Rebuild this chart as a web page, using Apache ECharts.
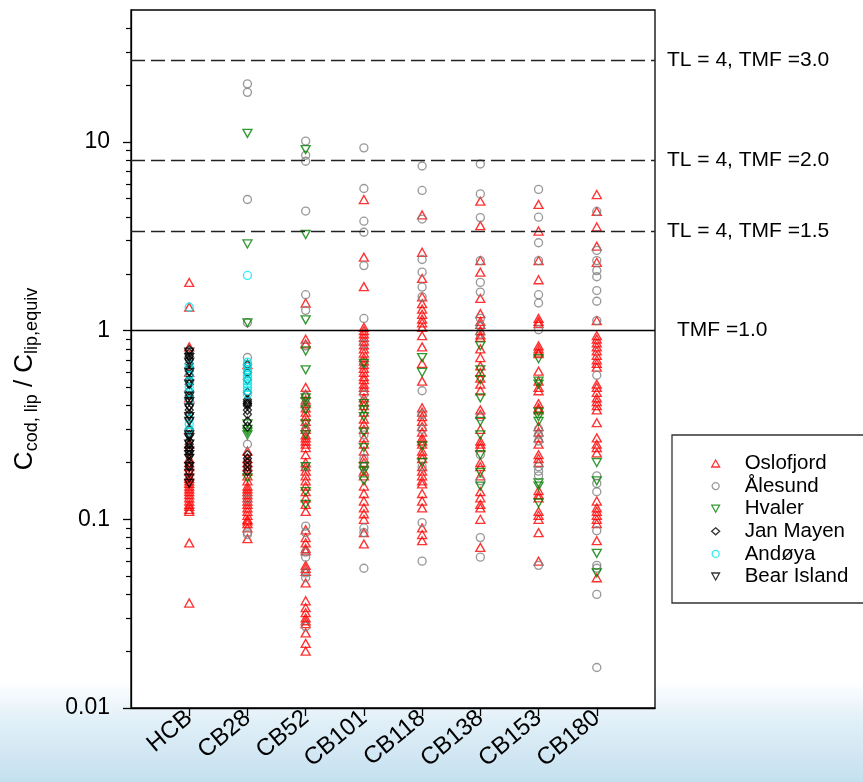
<!DOCTYPE html>
<html><head><meta charset="utf-8">
<script src="https://cdn.jsdelivr.net/npm/echarts@6/dist/echarts.min.js"></script>
<style>html,body{margin:0;padding:0;background:#fff}#c{width:863px;height:782px}</style>
</head><body><div id="c"></div>
<script>
const categories = ['HCB','CB28','CB52','CB101','CB118','CB138','CB153','CB180'];
const seriesNames = ['Oslofjord','Ålesund','Hvaler','Jan Mayen','Andøya','Bear Island'];

// values per category (HCB, CB28, CB52, CB101, CB118, CB138, CB153, CB180)
const oslofjord = [
  [1.8,1.33,0.82,0.6,0.44,0.3,0.25,0.21,0.2,0.19,0.18,0.17,0.165,0.16,0.155,0.15,0.145,0.14,0.135,0.13,0.125,0.12,0.117,0.113,0.11,0.075,0.036],
  [0.66,0.23,0.21,0.2,0.19,0.18,0.17,0.16,0.15,0.145,0.14,0.135,0.13,0.125,0.12,0.115,0.11,0.105,0.1,0.098,0.095,0.09,0.079],
  [1.4,0.9,0.85,0.5,0.46,0.43,0.41,0.39,0.37,0.35,0.33,0.31,0.3,0.28,0.27,0.26,0.25,0.24,0.22,0.2,0.19,0.18,0.17,0.16,0.15,0.14,0.13,0.12,0.11,0.088,0.08,0.075,0.07,0.068,0.057,0.055,0.053,0.046,0.037,0.034,0.032,0.03,0.029,0.028,0.025,0.022,0.02],
  [4.95,2.45,1.71,1.04,1.0,0.96,0.92,0.88,0.84,0.8,0.76,0.72,0.69,0.66,0.63,0.6,0.57,0.55,0.52,0.5,0.48,0.44,0.42,0.4,0.37,0.34,0.32,0.3,0.27,0.25,0.23,0.21,0.2,0.18,0.17,0.15,0.137,0.125,0.115,0.107,0.1,0.085,0.074],
  [4.1,2.6,1.89,1.51,1.39,1.3,1.22,1.15,1.1,1.04,0.94,0.82,0.67,0.54,0.39,0.37,0.35,0.33,0.31,0.29,0.27,0.26,0.25,0.23,0.22,0.21,0.19,0.18,0.17,0.16,0.154,0.137,0.125,0.115,0.09,0.083,0.077],
  [4.85,3.6,2.35,2.04,1.48,1.23,1.12,1.08,1.0,0.95,0.92,0.8,0.72,0.65,0.6,0.56,0.52,0.48,0.38,0.36,0.3,0.26,0.25,0.24,0.2,0.19,0.17,0.14,0.13,0.12,0.115,0.1,0.071],
  [4.66,3.37,2.35,1.86,1.16,1.12,1.09,0.83,0.8,0.77,0.755,0.61,0.54,0.5,0.48,0.41,0.39,0.38,0.31,0.29,0.27,0.25,0.22,0.21,0.2,0.142,0.135,0.13,0.11,0.105,0.1,0.085,0.06],
  [5.26,4.28,3.54,2.8,2.3,1.13,0.94,0.9,0.86,0.82,0.78,0.74,0.7,0.67,0.64,0.52,0.5,0.47,0.44,0.42,0.4,0.38,0.325,0.27,0.25,0.24,0.225,0.125,0.115,0.11,0.105,0.1,0.095,0.077,0.049]
];
const alesund = [
  [],
  [20.3,18.3,4.95,1.1,0.72,0.25,0.128,0.085,0.083],
  [10.1,8.5,7.9,4.3,1.55,1.28,0.83,0.45,0.4,0.3,0.19,0.092,0.085,0.067,0.063,0.052,0.049,0.027],
  [9.3,5.66,3.8,3.32,2.21,1.16,0.85,0.67,0.46,0.28,0.21,0.19,0.09,0.085,0.055],
  [7.45,5.53,3.9,2.38,2.04,1.7,1.51,0.48,0.36,0.3,0.19,0.096,0.06],
  [7.64,5.3,3.97,2.35,1.8,1.6,1.16,1.05,0.96,0.35,0.22,0.16,0.08,0.063],
  [5.6,3.99,2.92,2.35,1.55,1.4,1.01,0.3,0.28,0.26,0.19,0.18,0.17,0.057],
  [4.28,2.66,2.35,2.08,1.93,1.63,1.43,1.13,0.58,0.17,0.155,0.14,0.087,0.057,0.055,0.04,0.0164]
];
const hvaler = [
  [],
  [11.1,2.88,1.1,0.32,0.3,0.29,0.28,0.166],
  [9.1,3.23,1.14,0.78,0.62,0.44,0.42,0.38,0.32,0.28,0.19,0.14,0.12],
  [0.67,0.41,0.38,0.35,0.29,0.24,0.19,0.18,0.16],
  [0.72,0.6,0.245,0.2],
  [0.83,0.62,0.55,0.44,0.33,0.28,0.22,0.177,0.15],
  [0.71,0.54,0.52,0.37,0.35,0.33,0.156,0.15,0.122],
  [0.2,0.16,0.066,0.052]
];
const janMayen = [
  [0.79,0.76,0.73,0.7,0.67,0.64,0.61,0.58,0.55,0.52,0.48,0.45,0.43,0.4,0.38,0.36,0.34,0.3,0.28,0.26,0.25,0.24,0.23,0.22,0.2,0.19],
  [0.66,0.6,0.55,0.47,0.43,0.42,0.41,0.41,0.4,0.38,0.36,0.33,0.31,0.22,0.21,0.2,0.19,0.18],
  [],[],[],[],[],[]
];
const andoya = [
  [1.33,0.66,0.63,0.58,0.54,0.5,0.47,0.43,0.34,0.32,0.3,0.29],
  [1.96,0.68,0.66,0.64,0.62,0.6,0.58,0.56,0.54,0.52,0.5,0.48,0.46],
  [],[],[],[],[],[]
];
const bearIsland = [
  [0.77,0.72,0.68,0.6,0.52,0.45,0.42,0.39,0.35,0.33,0.28,0.27,0.25,0.23,0.22,0.21,0.19,0.175,0.165,0.155],
  [],[],[],[],[],[],[]
];

const yTickLabels = [0.01, 0.1, 1, 10];
const thresholdValues = [27, 8, 3.375];
const thresholdLabels = ['TL = 4, TMF =3.0', 'TL = 4, TMF =2.0', 'TL = 4, TMF =1.5'];
const baselineValue = 1;
const baselineLabel = 'TMF =1.0';

const seriesValues = [oslofjord, alesund, hvaler, janMayen, andoya, bearIsland];
const downTri = 'path://M0,0 L10,0 L5,9 Z';
const seriesStyles = [
  {symbol:'triangle', rotate:0,   legendIcon:'triangle', color:'#ff0000', size:[9,8]},
  {symbol:'circle',   rotate:0,   legendIcon:'circle',   color:'#808080', size:8},
  {symbol:'triangle', rotate:180, legendIcon:downTri,    color:'#008000', size:[9,8]},
  {symbol:'diamond',  rotate:0,   legendIcon:'diamond',  color:'#000000', size:[8,9]},
  {symbol:'circle',   rotate:0,   legendIcon:'circle',   color:'#00e6ee', size:8},
  {symbol:'triangle', rotate:180, legendIcon:downTri,    color:'#000000', size:[9,8]}
];

function toPoints(groups){
  const pts = [];
  groups.forEach((vals, i) => vals.forEach(v => pts.push([i + 1, v])));
  return pts;
}

const minorTicks = [];
yTickLabels.forEach(d => { for (let k = 2; k <= 9; k++) { const v = +(d * k).toPrecision(6); if (v < 45) minorTicks.push(v); } });

const font = '"Liberation Sans", Arial, sans-serif';

const series = seriesNames.map((name, i) => {
  const st = seriesStyles[i];
  const s = {
    name, type:'scatter', data: toPoints(seriesValues[i]),
    symbol: st.symbol, symbolRotate: st.rotate, symbolSize: st.size,
    itemStyle: {color:'rgba(0,0,0,0)', borderColor: st.color, borderWidth: 1.35},
    emphasis: {disabled: true}, silent: true
  };
  if (i === 0) {
    s.markLine = {
      silent: true, symbol: 'none', animation: false,
      label: {position:'end', distance: 12, color:'#000', fontSize: 21, fontFamily: font},
      data: thresholdValues.map((v, k) => ({
        yAxis: v,
        label: {formatter: thresholdLabels[k]},
        lineStyle: {type:[14,6], color:'#222', width:1.3}
      })).concat([{
        yAxis: baselineValue,
        label: {formatter: baselineLabel, distance: 22},
        lineStyle: {type:'solid', color:'#000', width:1.3}
      }])
    };
  }
  return s;
});

const chart = echarts.init(document.getElementById('c'), null, {renderer:'canvas'});
chart.setOption({
  animation: false,
  backgroundColor: 'transparent',
  textStyle: {fontFamily: font},
  graphic: [
    {type:'rect', z:-10, silent:true, shape:{x:0, y:0, width:863, height:782},
     style:{fill: new echarts.graphic.LinearGradient(0,0,0,1,[
       {offset:0, color:'#ffffff'},{offset:0.87, color:'#ffffff'},
       {offset:0.92, color:'#e2f0f8'},{offset:1, color:'#c4e0ef'}])}},
    {type:'rect', z:5, silent:true, shape:{x:672, y:435, width:260, height:168},
     style:{fill:'#ffffff', stroke:'#333', lineWidth:1.3}}
  ],
  grid: {left:131, right:208, top:10, bottom:74, show:true, backgroundColor:'#ffffff', borderColor:'#000', borderWidth:1.3},
  legend: {
    data: seriesNames.map((n, i) => ({name: n, icon: seriesStyles[i].legendIcon})),
    orient:'vertical', left:706, top:448, z:10,
    itemWidth:8, itemHeight:7, itemGap:1.6,
    itemStyle:{color:'rgba(0,0,0,0)', borderWidth:1.3},
    textStyle:{fontSize:20.5, lineHeight:20, color:'#000', fontFamily:font, padding:[0,0,0,20]},
    selectedMode:false
  },
  xAxis: {
    type:'value', min:0, max:9, interval:1,
    axisLine:{show:true, lineStyle:{color:'#000', width:1.3}},
    axisTick:{show:true, length:8, customValues:[1,2,3,4,5,6,7,8], lineStyle:{color:'#000', width:1.3}},
    axisLabel:{customValues:[1,2,3,4,5,6,7,8], formatter: v => categories[v-1] || '', rotate:40, margin:7, fontSize:24, color:'#000', fontFamily:font},
    splitLine:{show:false}
  },
  yAxis: [{
    type:'log', logBase:10, min:0.01, max:50,
    name:'{c|C}{s|cod, lip}{c| / C}{s|lip,equiv}', nameLocation:'middle', nameGap:90, nameRotate:90,
    nameTextStyle:{padding:[0,40,0,0], rich:{
      c:{fontSize:26, lineHeight:32, verticalAlign:'middle', color:'#000', fontFamily:font},
      s:{fontSize:18, lineHeight:32, verticalAlign:'bottom', color:'#000', fontFamily:font}}},
    axisLine:{show:true, lineStyle:{color:'#000', width:1.3}},
    axisTick:{show:true, length:8, customValues:yTickLabels, lineStyle:{color:'#000', width:1.3}},
    axisLabel:{customValues:yTickLabels, formatter: v => String(v), margin:21, fontSize:23, color:'#000', fontFamily:font},
    splitLine:{show:false}, minorTick:{show:false}
  },{
    type:'log', logBase:10, min:0.01, max:50, position:'left',
    axisLine:{show:false},
    axisTick:{show:true, length:5, customValues:minorTicks, lineStyle:{color:'#000', width:1.2}},
    axisLabel:{show:false}, splitLine:{show:false}
  }],
  series
});
</script></body></html>
